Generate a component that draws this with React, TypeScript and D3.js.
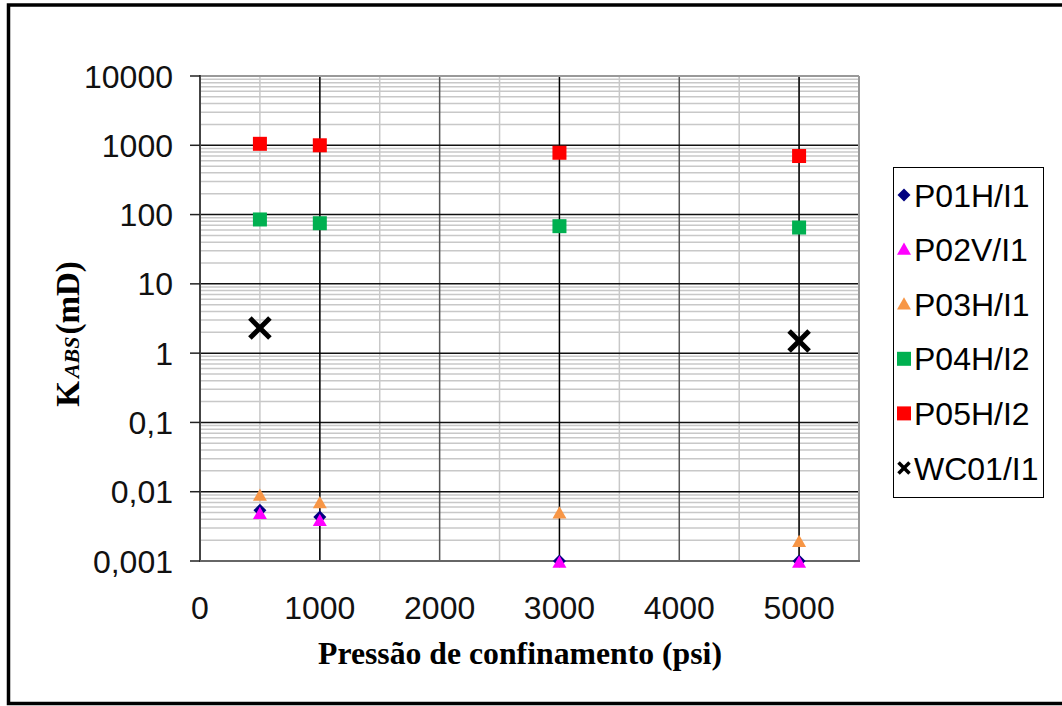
import React from "react";
import * as d3 from "d3";

const xTicks = [0, 1000, 2000, 3000, 4000, 5000];
const yTicks = [0.001, 0.01, 0.1, 1, 10, 100, 1000, 10000];
const yTickLabels = ["0,001", "0,01", "0,1", "1", "10", "100", "1000", "10000"];

const pressures = [500, 1000, 3000, 5000];
const p01 = [0.0054, 0.0043, 0.001, 0.001];
const p02 = [0.0048, 0.0038, 0.00095, 0.00095];
const p03 = [0.0088, 0.0069, 0.0049, 0.0019];
const p04 = [85, 75, 68, 65];
const p05 = [1050, 1000, 780, 700];
const wcPressures = [500, 5000];
const wc01 = [2.3, 1.5];

const seriesNames = ["P01H/I1", "P02V/I1", "P03H/I1", "P04H/I2", "P05H/I2", "WC01/I1"];

const W = 1062;
const H = 706;
const L = 200, R = 859, T = 76, B = 561;

const x = d3.scaleLinear().domain([0, 5500]).range([L, R]);
const y = d3.scaleLog().domain([0.001, 10000]).range([B, T]);

function Marker({ kind, cx, cy, small }: { kind: string; cx: number; cy: number; small?: boolean }) {
  if (kind === "diamond") {
    const s = 6.5;
    return <path d={`M${cx},${cy - s}L${cx + s},${cy}L${cx},${cy + s}L${cx - s},${cy}Z`} fill="#000080" />;
  }
  if (kind === "tri-m" || kind === "tri-o") {
    const s = 7;
    return (
      <path
        d={`M${cx},${cy - s}L${cx + s},${cy + s * 0.75}L${cx - s},${cy + s * 0.75}Z`}
        fill={kind === "tri-m" ? "#FF00FF" : "#F79646"}
      />
    );
  }
  if (kind === "sq-g" || kind === "sq-r") {
    const s = 7;
    return <rect x={cx - s} y={cy - s} width={2 * s} height={2 * s} fill={kind === "sq-g" ? "#00B050" : "#FF0000"} />;
  }
  const s = small ? 5.5 : 10;
  return (
    <g stroke="#000" strokeWidth={small ? 3.5 : 5}>
      <line x1={cx - s} y1={cy - s} x2={cx + s} y2={cy + s} />
      <line x1={cx - s} y1={cy + s} x2={cx + s} y2={cy - s} />
    </g>
  );
}

const sansFont = "Liberation Sans, Arial, sans-serif";
const serifFont = "Liberation Serif, Times New Roman, serif";

export default function App() {
  const minorY: number[] = [];
  for (let e = -3; e < 4; e++) {
    for (let m = 2; m <= 9; m++) minorY.push(m * Math.pow(10, e));
  }
  const minorX = d3.range(500, 5500, 1000);
  const majorX = d3.range(1000, 5001, 1000);
  const dropX = [1000, 3000, 5000];

  const series = [
    { kind: "diamond", xs: pressures, ys: p01 },
    { kind: "tri-m", xs: pressures, ys: p02 },
    { kind: "tri-o", xs: pressures, ys: p03 },
    { kind: "sq-g", xs: pressures, ys: p04 },
    { kind: "sq-r", xs: pressures, ys: p05 },
    { kind: "x", xs: wcPressures, ys: wc01 },
  ];
  const drawOrder = [2, 0, 1, 3, 4, 5];

  const legendY0 = 195;
  const legendDy = 54.6;

  return (
    <svg width={W} height={H} style={{ position: "absolute", left: 0, top: 0, background: "#fff" }}>
      <rect x={0} y={0} width={W} height={H} fill="#fff" />
      {/* outer frame */}
      <path d={`M${W + 5},5 L8.5,5 L8.5,703.5 L${W + 5},703.5`} fill="none" stroke="#000" strokeWidth={3.5} />

      {minorY.map((v, i) => (
        <line key={"my" + i} x1={L} x2={R} y1={y(v)} y2={y(v)} stroke="#c8c8c8" strokeWidth={1.5} />
      ))}
      {minorX.map((v, i) => (
        <line key={"mx" + i} x1={x(v)} x2={x(v)} y1={T} y2={B} stroke="#c8c8c8" strokeWidth={1.5} />
      ))}
      {majorX.map((v, i) => (
        <line key={"Mx" + i} x1={x(v)} x2={x(v)} y1={T} y2={B} stroke="#555" strokeWidth={1.5} />
      ))}
      {yTicks.map((v, i) => (
        <line key={"My" + i} x1={L} x2={R} y1={y(v)} y2={y(v)} stroke="#111" strokeWidth={1.5} />
      ))}
      {dropX.map((v, i) => (
        <line key={"dx" + i} x1={x(v)} x2={x(v)} y1={T} y2={B} stroke="#000" strokeWidth={1.2} />
      ))}
      <line x1={L} x2={R} y1={T} y2={T} stroke="#999" strokeWidth={2} />
      <line x1={R} x2={R} y1={T} y2={B} stroke="#999" strokeWidth={2} />
      <line x1={L} x2={L} y1={T - 1} y2={B + 1} stroke="#444" strokeWidth={2} />
      <line x1={L} x2={R + 1} y1={B} y2={B} stroke="#666" strokeWidth={2} />

      {yTicks.map((v, i) => (
        <g key={"yt" + i}>
          <line x1={L - 10} x2={L} y1={y(v)} y2={y(v)} stroke="#222" strokeWidth={1.5} />
          <text x={L - 27} y={y(v)} dy="0.36em" textAnchor="end" fontFamily={sansFont} fontSize={32} fill="#111">
            {yTickLabels[i]}
          </text>
        </g>
      ))}
      {xTicks.map((v, i) => (
        <text key={"xt" + i} x={x(v)} y={619} textAnchor="middle" fontFamily={sansFont} fontSize={32} fill="#111">
          {v}
        </text>
      ))}

      {drawOrder.map((si) =>
        series[si].xs.map((xv, j) => (
          <Marker key={si + "-" + j} kind={series[si].kind} cx={x(xv)} cy={y(series[si].ys[j])} />
        ))
      )}

      <text
        x={520}
        y={664}
        textAnchor="middle"
        fontFamily={serifFont}
        fontWeight="bold"
        fontSize={31}
        textLength={404}
        lengthAdjust="spacingAndGlyphs"
        fill="#000"
      >
        Pressão de confinamento (psi)
      </text>
      <text
        transform="translate(79,334) rotate(-90)"
        textAnchor="middle"
        fontFamily={serifFont}
        fontWeight="bold"
        fontSize={33}
        fill="#000"
      >
        K
        <tspan dx={3} fontStyle="italic" fontSize={22}>ABS</tspan>
        <tspan dx={2}>(mD)</tspan>
      </text>

      <rect x={893.5} y={167.5} width={150} height={330} fill="#fff" stroke="#000" strokeWidth={1} />
      {seriesNames.map((name, i) => (
        <g key={"lg" + i}>
          <Marker kind={series[i].kind} cx={904} cy={legendY0 + i * legendDy} small />
          <text x={914} y={legendY0 + i * legendDy} dy="0.36em" fontFamily={sansFont} fontSize={32} fill="#000">
            {name}
          </text>
        </g>
      ))}
    </svg>
  );
}
